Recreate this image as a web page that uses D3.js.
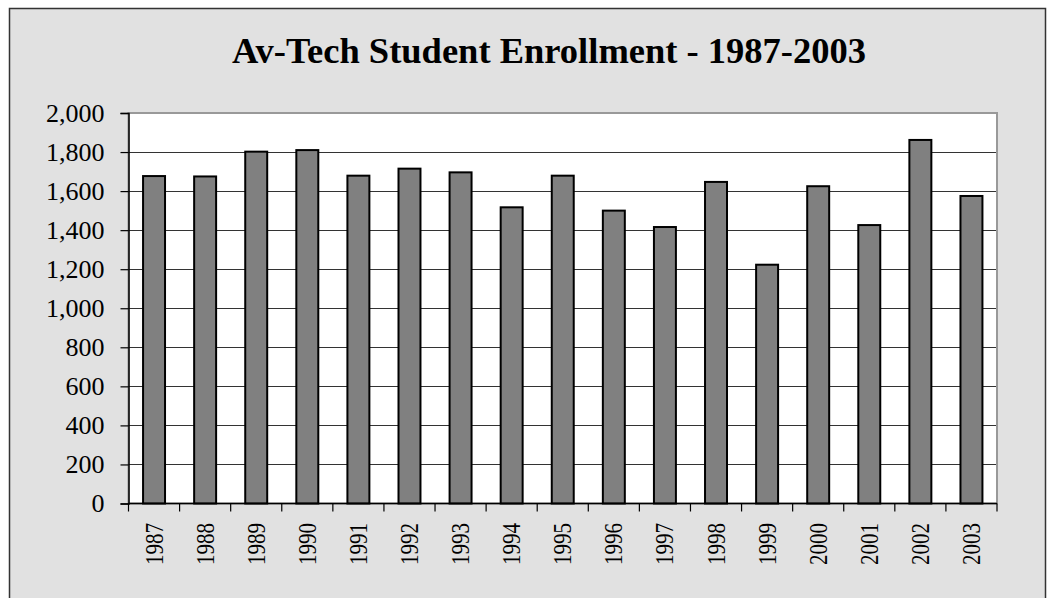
<!DOCTYPE html>
<html lang="en">
<head>
  <meta charset="UTF-8">
  <title>Av-Tech Student Enrollment - 1987-2003</title>
  <script src="https://cdn.jsdelivr.net/npm/d3@7"></script>
  <style>
    html, body { margin: 0; padding: 0; background: #fff; }
    svg { display: block; }
  </style>
</head>
<body>
  <script>
    // chart data
    var years = ['1987','1988','1989','1990','1991','1992','1993','1994','1995',
                 '1996','1997','1998','1999','2000','2001','2002','2003'];
    var enrollment = [1677, 1675, 1802, 1810, 1679, 1715, 1696, 1517, 1679,
                      1500, 1416, 1647, 1223, 1625, 1426, 1862, 1575];
    var yTicks = [0, 200, 400, 600, 800, 1000, 1200, 1400, 1600, 1800, 2000];
    var chartTitle = 'Av-Tech Student Enrollment - 1987-2003';

    var W = 1047, H = 598;
    var plotL = 128.5, plotR = 997, plotT = 113, plotB = 503.5;
    var serif = '"Liberation Serif", "Times New Roman", serif';

    var svg = d3.select('body').append('svg')
      .attr('width', W)
      .attr('height', H);

    // outer chart area
    svg.append('rect')
      .attr('x', 9.5).attr('y', 8.5)
      .attr('width', 1036).attr('height', 600)
      .attr('fill', '#e1e1e1')
      .attr('stroke', '#333')
      .attr('stroke-width', 1.5);

    svg.append('text')
      .attr('x', 549).attr('y', 63)
      .attr('text-anchor', 'middle')
      .style('font-family', serif)
      .style('font-weight', 'bold')
      .style('font-size', '36.5px')
      .text(chartTitle);

    var x = d3.scaleBand()
      .domain(years)
      .range([plotL, plotR])
      .paddingInner(0.57)
      .paddingOuter(0.285);

    var y = d3.scaleLinear()
      .domain([0, 2000])
      .range([plotB, plotT]);

    // plot area
    svg.append('rect')
      .attr('x', plotL).attr('y', plotT)
      .attr('width', plotR - plotL).attr('height', plotB - plotT)
      .attr('fill', '#fff')
      .attr('stroke', '#999')
      .attr('stroke-width', 2);

    // gridlines
    svg.append('g').selectAll('line')
      .data(yTicks.filter(function(d){ return d > 0 && d < 2000; }))
      .enter().append('line')
      .attr('x1', plotL).attr('x2', plotR - 1)
      .attr('y1', function(d){ return Math.round(y(d)) + 0.5; })
      .attr('y2', function(d){ return Math.round(y(d)) + 0.5; })
      .attr('stroke', '#333')
      .attr('stroke-width', 1.2);

    // bars
    svg.append('g').selectAll('rect')
      .data(enrollment)
      .enter().append('rect')
      .attr('x', function(d, i){ return x(years[i]); })
      .attr('y', function(d){ return y(d); })
      .attr('width', x.bandwidth())
      .attr('height', function(d){ return plotB - y(d); })
      .attr('fill', '#808080')
      .attr('stroke', '#000')
      .attr('stroke-width', 2);

    // y axis
    var yAxis = svg.append('g')
      .attr('transform', 'translate(' + plotL + ',0)')
      .call(d3.axisLeft(y).tickValues(yTicks).tickFormat(d3.format(',')).tickSize(8).tickPadding(16));
    yAxis.select('.domain').attr('stroke', '#000').attr('stroke-width', 1.5);
    yAxis.selectAll('.tick line').attr('stroke', '#000').attr('stroke-width', 1.2);
    yAxis.selectAll('text')
      .style('font-family', serif)
      .style('font-size', '26px')
      .attr('fill', '#000');

    // x axis line and boundary ticks
    svg.append('line')
      .attr('x1', plotL).attr('x2', plotR)
      .attr('y1', plotB).attr('y2', plotB)
      .attr('stroke', '#000').attr('stroke-width', 1.5);

    svg.append('g').selectAll('line')
      .data(d3.range(years.length + 1))
      .enter().append('line')
      .attr('x1', function(i){ return plotL + i * x.step(); })
      .attr('x2', function(i){ return plotL + i * x.step(); })
      .attr('y1', plotB).attr('y2', plotB + 8)
      .attr('stroke', '#000').attr('stroke-width', 1.2);

    svg.append('g').selectAll('text')
      .data(years)
      .enter().append('text')
      .attr('transform', function(d){
        return 'translate(' + (x(d) + x.bandwidth() / 2) + ',' + 523 + ') rotate(-90)';
      })
      .attr('text-anchor', 'end')
      .attr('dy', '0.34em')
      .attr('textLength', 42)
      .attr('lengthAdjust', 'spacingAndGlyphs')
      .style('font-family', serif)
      .style('font-size', '25px')
      .text(function(d){ return d; });
  </script>
</body>
</html>
